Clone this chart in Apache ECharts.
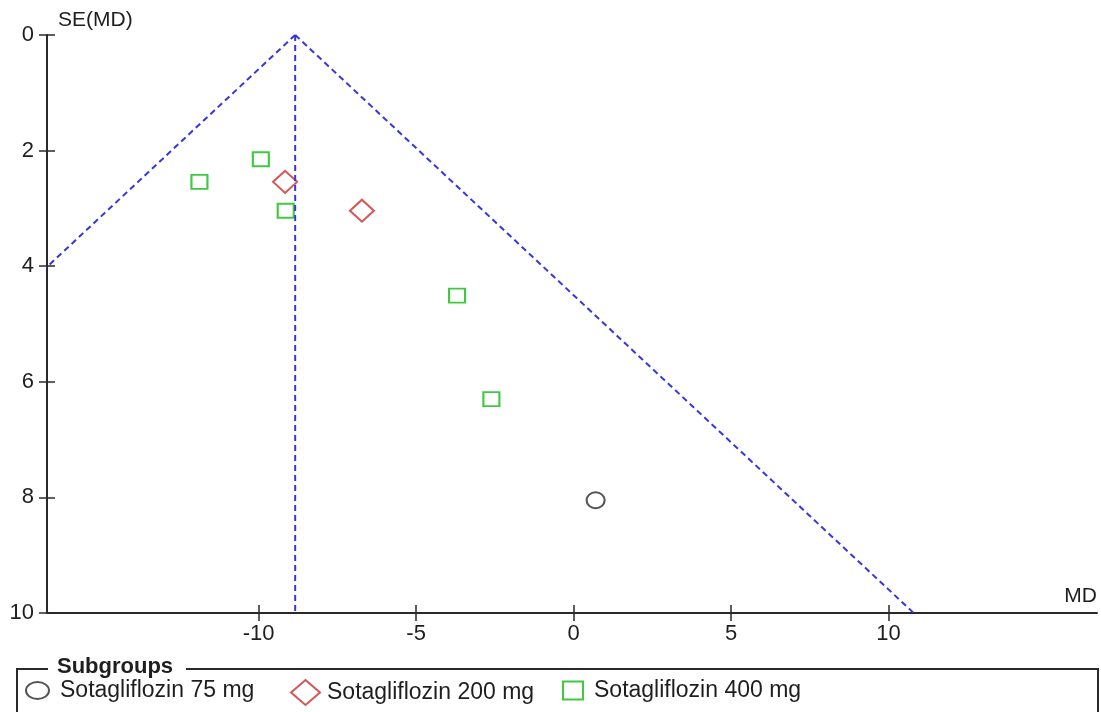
<!DOCTYPE html>
<html><head><meta charset="utf-8">
<script src="https://cdn.jsdelivr.net/npm/echarts@6/dist/echarts.min.js"></script>
<style>html,body{margin:0;padding:0;background:#fff}#c{width:1101px;height:712px}</style>
</head><body><div id="c"></div>
<script>
const seriesNames = ['Sotagliflozin 75 mg', 'Sotagliflozin 200 mg', 'Sotagliflozin 400 mg'];
const dose75 = [[0.70, 8.05]];
const dose200 = [[-9.16, 2.54], [-6.72, 3.04]];
const dose400 = [[-9.93, 2.15], [-11.88, 2.54], [-9.14, 3.04], [-3.70, 4.51], [-2.61, 6.30]];
const pooledLine = [[-8.84, 0], [-8.84, 10]];
const funnelLeft = [[-8.84, 0], [-28.48, 10]];
const funnelRight = [[-8.84, 0], [10.80, 10]];
const xTicks = [-10, -5, 0, 5, 10];
const xRange = [-16.72, 16.62];
const yRange = [0, 10];
const yInterval = 2;

const FONT = '"Liberation Sans", Arial, sans-serif';
const AX = '#2a2a2a';
const TXT = '#1e1e1e';
const BLUE = '#3636e0';
const colors = ['#2a2a2a', '#cc2a2a', '#10bb10'];

const gridRect = {left: 47, right: 4, top: 35, bottom: 99};

const chart = echarts.init(document.getElementById('c'), null, {renderer: 'canvas'});

const dashed = {color: BLUE, width: 2, type: [6, 4]};
function funnelSeries(data) {
  return {type: 'line', data: data, showSymbol: false, symbol: 'none', clip: true,
    lineStyle: dashed, silent: true, z: 3, xAxisIndex: 0, yAxisIndex: 0};
}

function legendItem(name, icon, left, w, h, color, pad) {
  return {
    left: left, top: 679, padding: 0, orient: 'horizontal',
    itemWidth: w, itemHeight: h, symbolKeepAspect: false,
    data: [{name: name, icon: icon,
      itemStyle: {color: 'rgba(0,0,0,0)', borderColor: color, borderWidth: 2}}],
    textStyle: {fontFamily: FONT, fontSize: 23, color: TXT, lineHeight: 22, padding: [0, 0, 0, pad]},
    selectedMode: false
  };
}

const ellipseIcon = 'path://M0,8.5a11.5,8.5 0 1,0 23,0a11.5,8.5 0 1,0 -23,0z';

const option = {
  animation: false,
  backgroundColor: '#fff',
  grid: [
    Object.assign({}, gridRect),
    Object.assign({}, gridRect)
  ],
  xAxis: [
    {type: 'value', gridIndex: 0, min: xRange[0], max: xRange[1], position: 'bottom',
      name: 'MD', nameLocation: 'end', nameGap: 0,
      nameTextStyle: {fontFamily: FONT, fontSize: 21, color: TXT, align: 'right', verticalAlign: 'bottom', padding: [0, 0, 6, 0]},
      axisLine: {show: true, onZero: false, lineStyle: {color: AX, width: 2}},
      axisTick: {show: true, customValues: xTicks, length: 8, lineStyle: {color: AX, width: 1.5}},
      axisLabel: {customValues: xTicks, margin: 10, fontFamily: FONT, fontSize: 22, color: TXT},
      splitLine: {show: false}},
    {type: 'value', gridIndex: 1, min: xRange[0], max: xRange[1], position: 'bottom',
      axisLine: {show: false, onZero: false},
      axisTick: {show: true, inside: true, customValues: xTicks, length: 8, lineStyle: {color: AX, width: 1.5}},
      axisLabel: {show: false},
      splitLine: {show: false}}
  ],
  yAxis: [
    {type: 'value', gridIndex: 0, inverse: true, min: yRange[0], max: yRange[1], interval: yInterval,
      name: 'SE(MD)', nameLocation: 'start', nameGap: 4,
      nameTextStyle: {fontFamily: FONT, fontSize: 21, color: TXT, align: 'left', verticalAlign: 'bottom', padding: [0, 0, 0, 11]},
      axisLine: {show: true, onZero: false, lineStyle: {color: AX, width: 2}},
      axisTick: {show: true, length: 8, lineStyle: {color: AX, width: 1.5}},
      axisLabel: {margin: 13, fontFamily: FONT, fontSize: 22, color: TXT, padding: [3, 0, 0, 0]},
      splitLine: {show: false}},
    {type: 'value', gridIndex: 1, inverse: true, min: yRange[0], max: yRange[1], interval: yInterval,
      position: 'left',
      axisLine: {show: false, onZero: false},
      axisTick: {show: true, inside: true, length: 8, lineStyle: {color: AX, width: 1.5}},
      axisLabel: {show: false},
      splitLine: {show: false}}
  ],
  legend: [
    legendItem(seriesNames[0], ellipseIcon, 25, 23, 17, colors[0], 6),
    legendItem(seriesNames[1], 'diamond', 290, 29, 25, colors[1], 2),
    legendItem(seriesNames[2], 'rect', 562, 20, 18, colors[2], 6)
  ],
  graphic: [
    {type: 'polyline', shape: {points: [[48, 669], [17, 669], [17, 720]]},
      style: {stroke: AX, lineWidth: 2, fill: null}, silent: true},
    {type: 'polyline', shape: {points: [[186, 669], [1098, 669], [1098, 720]]},
      style: {stroke: AX, lineWidth: 2, fill: null}, silent: true},
    {type: 'text', x: 57, y: 667, silent: true,
      style: {text: 'Subgroups', fontFamily: FONT, fontSize: 22, fontWeight: 'bold', fill: TXT,
        textAlign: 'left', textVerticalAlign: 'middle', verticalAlign: 'middle'}}
  ],
  series: [
    {name: seriesNames[0], type: 'scatter', data: dose75, symbol: 'circle', symbolSize: [18, 16],
      itemStyle: {color: 'rgba(0,0,0,0)', borderColor: colors[0], borderWidth: 2}, z: 2},
    {name: seriesNames[1], type: 'scatter', data: dose200, symbol: 'diamond', symbolSize: [24, 22],
      itemStyle: {color: 'rgba(0,0,0,0)', borderColor: colors[1], borderWidth: 2}, z: 2},
    {name: seriesNames[2], type: 'scatter', data: dose400, symbol: 'rect', symbolSize: [16, 14],
      itemStyle: {color: 'rgba(0,0,0,0)', borderColor: colors[2], borderWidth: 2}, z: 2},
    funnelSeries(pooledLine),
    funnelSeries(funnelLeft),
    funnelSeries(funnelRight)
  ]
};
chart.setOption(option);
</script>
</body></html>
